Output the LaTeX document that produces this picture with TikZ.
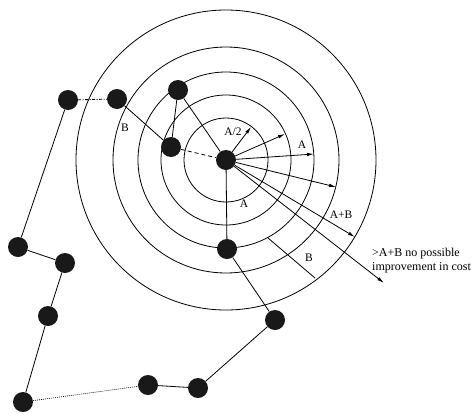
\documentclass[tikz,border=0pt]{standalone}
\usepackage{fontspec}
\setmainfont{Liberation Serif}
\usetikzlibrary{arrows.meta}
\begin{document}
\begin{tikzpicture}[x=1pt,y=-1pt,
  dot/.style={circle,fill=black!90,inner sep=0pt,minimum size=20pt},
  ring/.style={line width=0.8pt},
  edge/.style={line width=0.8pt},
  ray/.style={line width=0.8pt,-{Latex[length=7pt,width=3.5pt]}},
  lbl/.style={font=\fontsize{11.5}{13}\selectfont,inner sep=0pt}]
\useasboundingbox (0,0) rectangle (471,413);
\fill[white] (0,0) rectangle (471,413);
% concentric circles
\foreach \r in {42,65,88,113,150} \draw[ring] (226,160) circle[radius=\r];
% nodes
\node[dot] (C) at (226,160) {};
\node[dot] (n1) at (178,90) {};
\node[dot] (n2) at (171,147) {};
\node[dot] (n3) at (117,99) {};
\node[dot] (n4) at (68,100) {};
\node[dot] (n5) at (18,247) {};
\node[dot] (n6) at (65,263) {};
\node[dot] (n7) at (48,316) {};
\node[dot] (n8) at (23,402) {};
\node[dot] (n9) at (148,385) {};
\node[dot] (n10) at (198,388) {};
\node[dot] (n11) at (275,320) {};
\node[dot] (n12) at (227,249) {};
% tour edges
\draw[edge,dash pattern=on 3pt off 1.5pt on 1pt off 1.5pt] (n4) -- (n3);
\draw[edge] (n4) -- (n5);
\draw[edge] (n5) -- (n6);
\draw[edge] (n6) -- (n7);
\draw[edge] (n7) -- (n8);
\draw[line width=0.6pt,dash pattern=on 1pt off 1pt] (n8) -- (n9);
\draw[edge] (n9) -- (n10);
\draw[edge] (n10) -- (n11);
\draw[edge] (n11) -- (n12);
\draw[edge] (n12) -- (C);
\draw[edge] (C) -- (n1);
\draw[edge] (n1) -- (n2);
\draw[edge,dash pattern=on 4pt off 3pt] (n2) -- (C);
\draw[edge] (n3) -- (n2);
% radius arrows
\coordinate (t1) at (251,127);
\coordinate (t2) at (285,134);
\coordinate (t3) at (314,154);
\coordinate (t4) at (336,187);
\coordinate (t5) at (355,237);
\coordinate (t6) at (384,283);
\foreach \t in {t1,t2,t3,t4,t5,t6} \draw[ray] (C) -- (\t);
% B segment
\coordinate (b1) at (268,238);
\coordinate (b2) at (315,278);
\draw[edge] (b1) -- (b2);
% labels
\node[lbl] (la2) at (233,132) {A/2};
\node[lbl] (la) at (302,145) {A};
\node[lbl] (la3) at (244,204) {A};
\node[lbl] (lab) at (341,215) {A+B};
\node[lbl] (lb) at (309,258) {B};
\node[lbl] (lb2) at (125,128) {B};
\node[lbl,font=\fontsize{12}{14}\selectfont,anchor=west,align=left] (note) at (372,261)
  {\textgreater A+B no possible\\improvement in cost};
\end{tikzpicture}
\end{document}
